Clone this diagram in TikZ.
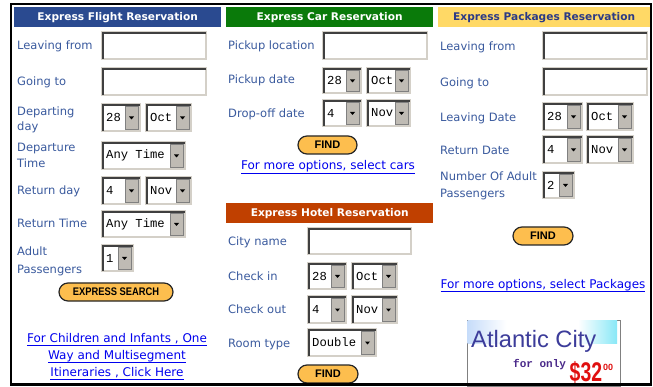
\documentclass[tikz,border=0pt]{standalone}
\usepackage{fontspec}
\setmainfont{DejaVu Sans}
\newfontfamily\monof{Liberation Mono}
\newfontfamily\arialf{Liberation Sans}
\usetikzlibrary{shapes.misc}

\definecolor{lblblue}{HTML}{3A5A9E}
\definecolor{flightblue}{HTML}{2A4A90}
\definecolor{cargreen}{HTML}{0A7A0A}
\definecolor{hotelred}{HTML}{C04000}
\definecolor{pkgyellow}{HTML}{FFD966}
\definecolor{pkgtext}{HTML}{2B3A86}
\definecolor{edgedark}{HTML}{404040}
\definecolor{edgelight}{HTML}{D4D0C8}
\definecolor{btnfill}{HTML}{FDBE4E}
\definecolor{linkblue}{HTML}{0000EE}
\definecolor{adblue}{HTML}{5A9AF0}
\definecolor{adcyan}{HTML}{80E6F6}
\definecolor{adtitle}{HTML}{3C3C9A}
\definecolor{adpurple}{HTML}{4B2A8A}
\definecolor{adred}{HTML}{E01010}

\pgfdeclarehorizontalshading{adband}{100bp}{color(0bp)=(adblue); color(38bp)=(white); color(62bp)=(white); color(76bp)=(adcyan); color(100bp)=(adcyan)}

\tikzset{
  lbl/.style={anchor=base west, inner sep=0, text=lblblue, font=\fontsize{11.5}{14}\selectfont},
  hdr/.style={anchor=north west, inner sep=0, minimum height=20, font=\fontsize{10.6}{12}\selectfont\bfseries},
  fieldbox/.style={rectangle, anchor=north west, fill=white, draw=edgelight, line width=2pt, inner sep=0, outer sep=0},
  seltext/.style={anchor=west, inner sep=0, font=\monof\fontsize{12.2}{13}\selectfont},
  dropbtn/.style={rectangle, anchor=north east, fill=edgelight!90!black, draw=black!50, line width=0.6pt, minimum width=13, inner sep=0, outer sep=0},
  btn/.style={rounded rectangle, draw=black!85, line width=1.2pt, fill=btnfill, inner sep=0, font=\arialf\bfseries\fontsize{11}{12}\selectfont},
  lnk/.style={anchor=base, inner sep=0, text=linkblue, font=\fontsize{12}{14}\selectfont},
}

% sunken text field: name, left, top, width, height
\newcommand\formfield[5]{%
  \node[fieldbox, minimum width=#4, minimum height=#5] (#1) at (#2,#3) {};
  \draw[edgedark, line width=2pt] ([xshift=1pt]#1.south west) |- ([yshift=-1pt]#1.north east);
}
% drop-down list: name, left, top, width, height, value
\newcommand\formselect[6]{%
  \formfield{#1}{#2}{#3}{#4}{#5}
  \node[seltext] (#1-v) at ([xshift=4pt]#1.west) {#6};
  \node[dropbtn, minimum height=#5-4] (#1-b) at ([xshift=-2pt,yshift=-2pt]#1.north east) {};
  \fill (#1-b.center) ++(-2.5,-1) -- ++(5,0) -- ++(-2.5,3) -- cycle;
}
\newcommand\ulink[1]{\underline{\smash{#1}\rule[-1.6pt]{0pt}{0pt}}}

\begin{document}
\begin{tikzpicture}[x=1pt,y=-1pt]
\useasboundingbox[fill=white] (0,0) rectangle (653,387);

% ---------- flight ----------
\node[hdr, fill=flightblue, text=white, minimum width=207] (fl-hdr) at (14,7) {Express Flight Reservation};
\node[lbl] (fl-from) at (17,50) {Leaving from};
\node[lbl] (fl-to)   at (17,86) {Going to};
\node[lbl] (fl-dep1) at (17,116) {Departing};
\node[lbl] (fl-dep2) at (17,131) {day};
\node[lbl] (fl-dt1)  at (17,152) {Departure};
\node[lbl] (fl-dt2)  at (17,168) {Time};
\node[lbl] (fl-ret)  at (17,195) {Return day};
\node[lbl] (fl-rt)   at (17,228) {Return Time};
\node[lbl] (fl-ad1)  at (17,256) {Adult};
\node[lbl] (fl-ad2)  at (17,273) {Passengers};

\formfield{fl-fromf}{102}{32}{104}{27}
\formfield{fl-tof}{102}{68}{104}{27}
\formselect{fl-dd}{102}{104}{38}{27}{28}
\formselect{fl-dm}{146}{104}{45}{27}{Oct}
\formselect{fl-dtm}{102}{142}{83}{27}{Any Time}
\formselect{fl-rd}{102}{177}{38}{27}{4}
\formselect{fl-rm}{146}{177}{45}{27}{Nov}
\formselect{fl-rtm}{102}{211}{83}{26}{Any Time}
\formselect{fl-pax}{102}{245}{31}{26}{1}

\node[btn, minimum width=114, minimum height=18] (fl-btn) at (116,292) {\scalebox{0.85}[1]{EXPRESS SEARCH}};

\node[lnk] (fl-l1) at (117,342) {\ulink{For Children and Infants , One}};
\node[lnk] (fl-l2) at (117,359) {\ulink{Way and Multisegment}};
\node[lnk] (fl-l3) at (117,376) {\ulink{Itineraries , Click Here}};

% ---------- car ----------
\node[hdr, fill=cargreen, text=white, minimum width=207] (car-hdr) at (226,7) {Express Car Reservation};
\node[lbl] (car-loc) at (228,50) {Pickup location};
\node[lbl] (car-pd)  at (228,84) {Pickup date};
\node[lbl] (car-dd)  at (228,118) {Drop-off date};
\formfield{car-locf}{323}{32}{104}{27}
\formselect{car-pday}{323}{68}{38}{25}{28}
\formselect{car-pmon}{367}{68}{43}{25}{Oct}
\formselect{car-dday}{323}{100}{38}{26}{4}
\formselect{car-dmon}{367}{100}{43}{26}{Nov}
\node[btn, minimum width=59, minimum height=18] (car-btn) at (327.5,145) {FIND};
\node[lnk] (car-lnk) at (328,170) {\ulink{For more options, select cars}};

% ---------- hotel ----------
\node[hdr, fill=hotelred, text=white, minimum width=207] (ht-hdr) at (226,203) {Express Hotel Reservation};
\node[lbl] (ht-city) at (228,246) {City name};
\node[lbl] (ht-in)   at (228,281) {Check in};
\node[lbl] (ht-out)  at (228,313) {Check out};
\node[lbl] (ht-room) at (228,347) {Room type};
\formfield{ht-cityf}{308}{228}{103}{26}
\formselect{ht-iday}{308}{263}{38}{26}{28}
\formselect{ht-imon}{352}{263}{45}{26}{Oct}
\formselect{ht-oday}{308}{296}{38}{27}{4}
\formselect{ht-omon}{352}{296}{45}{27}{Nov}
\formselect{ht-rtype}{308}{329}{68}{27}{Double}
\node[btn, minimum width=60, minimum height=18] (ht-btn) at (328,374) {FIND};

% ---------- packages ----------
\node[hdr, fill=pkgyellow, text=pkgtext, minimum width=212] (pk-hdr) at (438,7) {Express Packages Reservation};
\node[lbl] (pk-from) at (440,51) {Leaving from};
\node[lbl] (pk-to)   at (440,87) {Going to};
\node[lbl] (pk-ld)   at (440,122) {Leaving Date};
\node[lbl] (pk-rd)   at (440,155) {Return Date};
\node[lbl] (pk-n1)   at (440,181) {Number Of Adult};
\node[lbl] (pk-n2)   at (440,198) {Passengers};
\formfield{pk-fromf}{543}{32}{104}{27}
\formfield{pk-tof}{543}{68}{104}{27}
\formselect{pk-lday}{543}{103}{39}{27}{28}
\formselect{pk-lmon}{587}{103}{46}{27}{Oct}
\formselect{pk-rday}{543}{136}{39}{27}{4}
\formselect{pk-rmon}{587}{136}{46}{27}{Nov}
\formselect{pk-pax}{543}{172}{31}{26}{2}
\node[btn, minimum width=60, minimum height=18] (pk-btn) at (543,236) {FIND};
\node[lnk] (pk-lnk) at (543,288) {\ulink{For more options, select Packages}};

% ---------- advert ----------
\node[rectangle, anchor=north west, draw=black!50, line width=1pt, fill=white, minimum width=153, minimum height=66, inner sep=0] (ad) at (467,320) {};
\shade[shading=adband] (467.5,320.5) rectangle (617,343);
\node[anchor=base west, inner sep=0, text=adtitle, font=\arialf\fontsize{23.7}{26}\selectfont] (ad-t) at (471,347.5) {Atlantic City};
\node[anchor=base west, inner sep=0, text=adpurple, font=\monof\bfseries\fontsize{11}{12}\selectfont] (ad-f) at (513,367) {for only};
\node[anchor=base west, inner sep=0, text=adred, font=\arialf\bfseries\fontsize{27}{30}\selectfont] (ad-p) at (569.5,381.5) {\scalebox{0.72}[1]{\$32}};
\node[anchor=base west, inner sep=0, text=adred, font=\arialf\bfseries\fontsize{9}{10}\selectfont] (ad-c) at (603,370) {00};

% ---------- frame ----------
\node[rectangle, anchor=north west, draw=black, line width=2.5pt, minimum width=640, minimum height=380.5, inner sep=0, outer sep=0] (frame) at (11,4) {};
\end{tikzpicture}
\end{document}
